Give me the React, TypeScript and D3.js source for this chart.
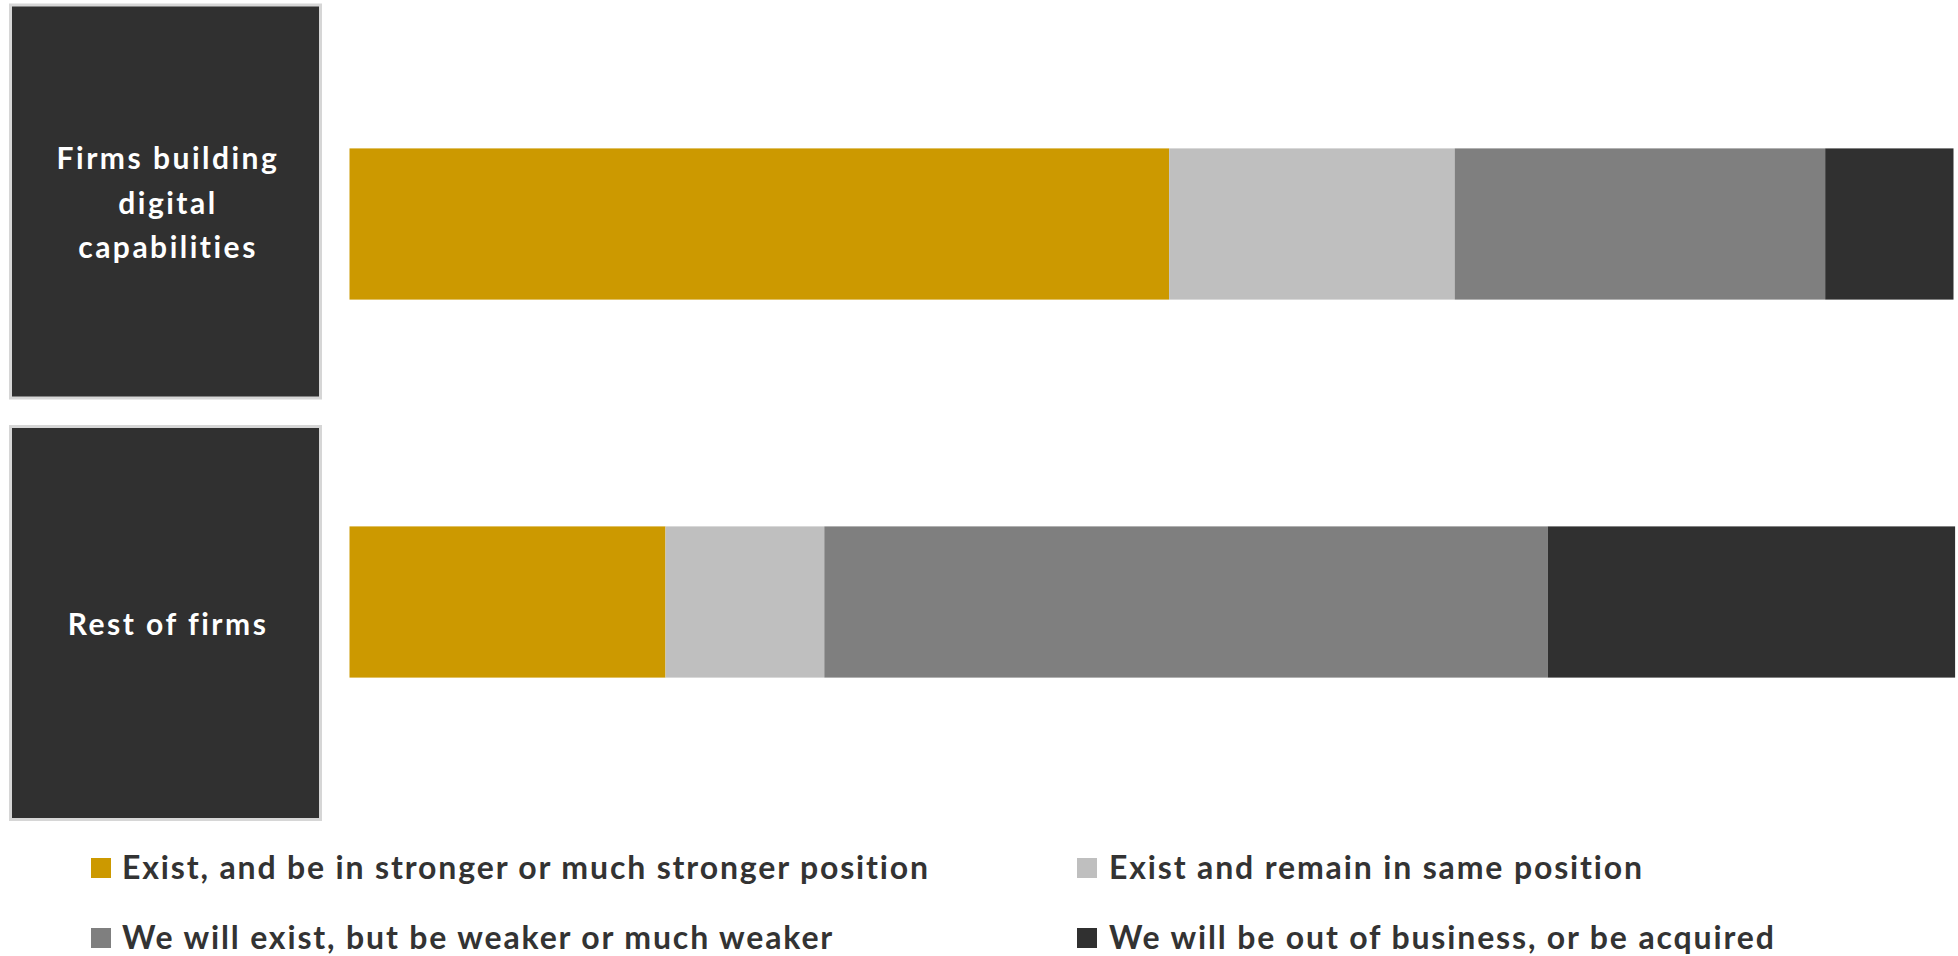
import React from "react";
import * as d3 from "d3";

// ---- data ----
const categories = ["Firms building digital capabilities", "Rest of firms"];
const categoryLines = [["Firms building", "digital", "capabilities"], ["Rest of firms"]];
const seriesNames = [
  "Exist, and be in stronger or much stronger position",
  "Exist and remain in same position",
  "We will exist, but be weaker or much weaker",
  "We will be out of business, or be acquired",
];
const seriesKeys = ["stronger", "same", "weaker", "out"];
const seriesColors = ["#CC9900", "#BFBFBF", "#7F7F7F", "#303030"];
const strongerValues = [51.1, 19.7];
const sameValues = [17.8, 9.9];
const weakerValues = [23.1, 45.1];
const outValues = [8.0, 25.4];

const W = 1958;
const H = 956;
const FONT = "Lato, 'Open Sans', sans-serif";

export default function App() {
  const rows = categories.map((c, i) => ({
    category: c,
    stronger: strongerValues[i],
    same: sameValues[i],
    weaker: weakerValues[i],
    out: outValues[i],
  }));
  const stack = d3.stack<any>().keys(seriesKeys);
  const stacked = stack(rows);

  const x = d3.scaleLinear().domain([0, 100]).range([349.5, 1953.5]);
  const y = d3
    .scaleBand<string>()
    .domain(categories)
    .range([35, 791])
    .paddingInner(0.6)
    .paddingOuter(0.3);
  const color = d3.scaleOrdinal<string, string>().domain(seriesKeys).range(seriesColors);

  const boxes = [
    { y: 5, h: 393 },
    { y: 426.5, h: 393 },
  ];
  const lineGap = 44.5;

  const legendPos = [
    { sx: 91, tx: 122, sy: 858, by: 879 },
    { sx: 1077, tx: 1109, sy: 858, by: 879 },
    { sx: 91, tx: 122, sy: 928, by: 949 },
    { sx: 1077, tx: 1109, sy: 928, by: 949 },
  ];

  return (
    <svg
      width={W}
      height={H}
      style={{ position: "absolute", left: 0, top: 0, display: "block", background: "#fff", fontVariantLigatures: "none" }}
      fontFamily={FONT}
    >
      {/* category label boxes */}
      {categories.map((c, i) => {
        const b = boxes[i];
        const lines = categoryLines[i];
        const cy = b.y + b.h / 2;
        const firstBaseline = cy + 12 - ((lines.length - 1) * lineGap) / 2;
        return (
          <g key={c}>
            <rect x={10.5} y={b.y} width={310} height={b.h} fill="#303030" stroke="#d6d6d6" strokeWidth={3} />
            <text textAnchor="middle" fill="#ffffff" fontSize={30} fontWeight={700} letterSpacing={2.5}>
              {lines.map((l, j) => (
                <tspan key={j} x={168} y={firstBaseline + j * lineGap}>
                  {l}
                </tspan>
              ))}
            </text>
          </g>
        );
      })}

      {/* stacked bars */}
      {stacked.map((s) => (
        <g key={s.key} fill={color(s.key)}>
          {s.map((d) => (
            <rect
              key={d.data.category}
              x={x(d[0])}
              y={y(d.data.category)}
              width={x(d[1]) - x(d[0])}
              height={y.bandwidth()}
            />
          ))}
        </g>
      ))}

      {/* legend */}
      {seriesNames.map((n, i) => {
        const p = legendPos[i];
        return (
          <g key={n}>
            <rect x={p.sx} y={p.sy} width={20} height={20} fill={seriesColors[i]} />
            <text x={p.tx} y={p.by} fill="#333333" fontSize={32} fontWeight={700} letterSpacing={1.85}>
              {n}
            </text>
          </g>
        );
      })}
    </svg>
  );
}
